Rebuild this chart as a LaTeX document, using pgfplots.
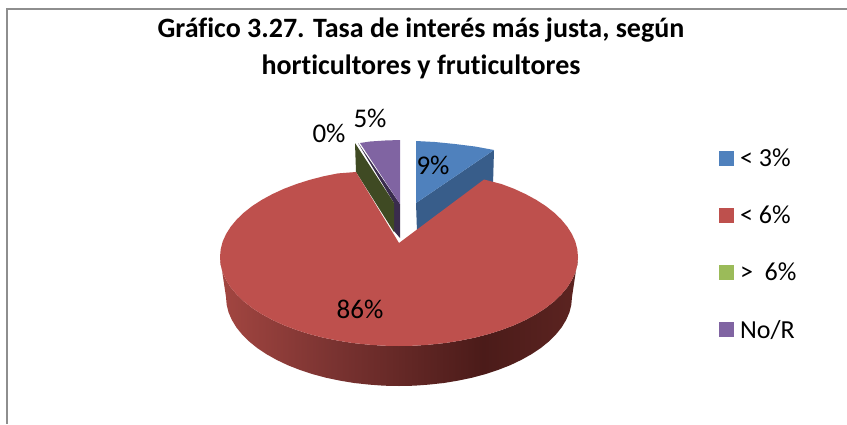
\documentclass[border=0pt]{standalone}
\usepackage{fontspec}
\setmainfont{Carlito}[Ligatures=NoCommon]
\usepackage{pgfplots}
\pgfplotsset{compat=1.18}
\definecolor{cBlue}{HTML}{4F81BD}
\definecolor{cBlueD}{HTML}{385D8A}
\definecolor{cRed}{HTML}{BE504D}
\definecolor{cGreen}{HTML}{9BBB59}
\definecolor{cGreenD}{HTML}{3F4A23}
\definecolor{cPurple}{HTML}{8064A2}
\definecolor{cPurpleD}{HTML}{3A2C4D}
\definecolor{cFrame}{HTML}{8E8E8E}
\definecolor{sA}{HTML}{A34641}
\definecolor{sB}{HTML}{7A3331}
\definecolor{sC}{HTML}{4B1B19}
\definecolor{sD}{HTML}{5C2421}
\pgfdeclarehorizontalshading{redside}{100bp}{color(0bp)=(sA); color(25bp)=(sA); color(40.8bp)=(sB); color(61.7bp)=(sC); color(75bp)=(sD); color(100bp)=(sD)}
\begin{document}
\begin{tikzpicture}
\begin{axis}[
  scale only axis, width=847pt, height=424pt,
  xmin=0, xmax=847, ymin=0, ymax=424, y dir=reverse,
  axis lines=none,
  legend cell align=left,
  legend image code/.code={\fill[draw=none,#1] (0pt,-7.5pt) rectangle (15pt,7.5pt);},
  legend style={at={(axis cs:719,148.5)}, anchor=north west, draw=none, fill=none,
    inner sep=0pt, outer sep=0pt, row sep=38pt, font=\fontsize{26}{30}\selectfont,
    nodes={inner xsep=6pt, inner ysep=0pt}},
]
% page background
\addplot[forget plot, fill=white, draw=none] coordinates {(0,0) (847,0) (847,424) (0,424)} -- cycle;
% frame
\addplot[forget plot, cFrame, line width=2pt] coordinates {(847,9) (7,9) (7,424)};
% blue slice side
\addplot[forget plot, fill=cBlueD, draw=none] coordinates {(416,203) (494,150) (493,185) (417,232)} -- cycle;
% blue slice top
\addplot[forget plot, fill=cBlue, draw=none] coordinates {(416,141) (435,142) (455,144) (475,146.5) (494,150) (416,203)} -- cycle;
% purple slice side
\addplot[forget plot, fill=cPurpleD, draw=none] coordinates {(358,143) (400,204) (400,238) (394,231) (394,203)} -- cycle;
% green slice side
\addplot[forget plot, fill=cGreenD, draw=none] coordinates {(355,143) (394,203) (394,232) (356,172)} -- cycle;
% purple slice top
\addplot[forget plot, fill=cPurple, draw=none] coordinates {(360,143) (370,141.5) (385,140.5) (400,140) (400,204)} -- cycle;
% red slice wall
\addplot[forget plot, shading=redside, draw=none] coordinates {
(220,257) (220.7,264.8) (222.7,272.5) (226.1,280.0) (230.8,287.4) (236.8,294.6) (244.0,301.5) (252.4,308.1)
(261.9,314.2) (272.4,319.9) (283.9,325.2) (296.3,329.9) (309.5,334.1) (323.4,337.7) (337.8,340.6) (352.7,343.0)
(367.9,344.6) (383.4,345.7) (399,346) (414.6,345.7) (430.1,344.6) (445.3,343.0) (460.2,340.6) (474.6,337.7)
(488.5,334.1) (501.7,329.9) (514.1,325.2) (525.6,319.9) (536.1,314.2) (545.6,308.1) (554.0,301.5) (561.2,294.6)
(567.2,287.4) (571.9,280.0) (575.3,272.5) (577.3,264.8) (578,257)
(572,297) (571.3,304.8) (569.4,312.5) (566.1,320.0) (561.6,327.4) (555.8,334.6) (548.8,341.5) (540.7,348.1)
(531.5,354.2) (521.3,359.9) (510.2,365.2) (498.2,369.9) (485.5,374.1) (472.1,377.7) (458.2,380.6) (443.8,383.0)
(429.0,384.6) (414.1,385.7) (399,386) (383.9,385.7) (369.0,384.6) (354.2,383.0) (339.8,380.6) (325.9,377.7)
(312.5,374.1) (299.8,369.9) (287.8,365.2) (276.7,359.9) (266.5,354.2) (257.3,348.1) (249.2,341.5) (242.2,334.6)
(236.4,327.4) (231.9,320.0) (228.6,312.5) (226.7,304.8) (226,297)
} -- cycle;
% red slice top
\addplot[forget plot, fill=cRed, draw=none] coordinates {
(399,243) (356,172) (337.8,173.4) (323.4,176.3) (309.5,179.9) (296.3,184.1) (283.9,188.8) (272.4,194.1) (261.9,199.8)
(252.4,205.9) (244.0,212.5) (236.8,219.4) (230.8,226.6) (226.1,234.0) (222.7,241.5) (220.7,249.2) (220,257)
(220.7,264.8) (222.7,272.5) (226.1,280.0) (230.8,287.4) (236.8,294.6) (244.0,301.5) (252.4,308.1)
(261.9,314.2) (272.4,319.9) (283.9,325.2) (296.3,329.9) (309.5,334.1) (323.4,337.7) (337.8,340.6) (352.7,343.0)
(367.9,344.6) (383.4,345.7) (399,346) (414.6,345.7) (430.1,344.6) (445.3,343.0) (460.2,340.6) (474.6,337.7)
(488.5,334.1) (501.7,329.9) (514.1,325.2) (525.6,319.9) (536.1,314.2) (545.6,308.1) (554.0,301.5) (561.2,294.6)
(567.2,287.4) (571.9,280.0) (575.3,272.5) (577.3,264.8) (578,257)
(577.3,249.2) (575.3,241.5) (571.9,234.0) (567.2,226.6) (561.2,219.4) (554.0,212.5) (545.6,205.9) (536.1,199.8)
(525.6,194.1) (514.1,188.8) (501.7,184.1) (484,179.5)
} -- cycle;
% legend
\addlegendimage{fill=cBlue}\addlegendentry{< 3\%}
\addlegendimage{fill=cRed}\addlegendentry{< 6\%}
\addlegendimage{fill=cGreen}\addlegendentry{>\ \ 6\%}
\addlegendimage{fill=cPurple}\addlegendentry{No/R}
% labels
\node[font=\fontsize{27}{30}\selectfont] at (axis cs:433,165) {9\%};
\node[font=\fontsize{27}{30}\selectfont] at (axis cs:360,309) {86\%};
\node[font=\fontsize{27}{30}\selectfont] at (axis cs:329,133) {0\%};
\node[font=\fontsize{27}{30}\selectfont] at (axis cs:370,118) {5\%};
\node[font=\fontsize{28}{37}\selectfont\bfseries, align=center] at (axis cs:421,48) {Gráfico 3.27. Tasa de interés más justa, según\\horticultores y fruticultores};
\end{axis}
\end{tikzpicture}
\end{document}
